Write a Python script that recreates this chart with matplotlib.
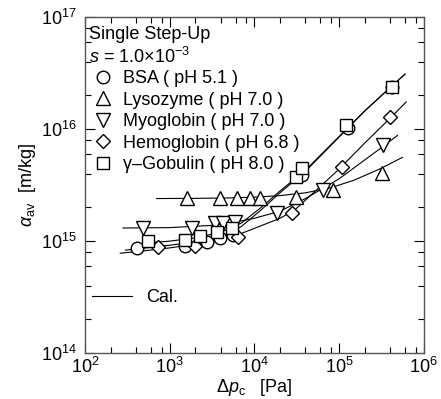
import matplotlib
matplotlib.use("Agg")
import matplotlib.pyplot as plt
from matplotlib.lines import Line2D
from matplotlib.ticker import LogLocator, NullFormatter

# measured points (dp_c [Pa], alpha_av [m/kg])
bsa_x = [410, 1.5e3, 2.75e3, 3.9e3, 5.6e3, 3.6e4, 1.26e5, 4.2e5]
bsa_y = [8.7e14, 9.0e14, 9.8e14, 1.06e15, 1.13e15, 3.9e15, 1.02e16, 2.37e16]

lyso_x = [1.59e3, 3.9e3, 6.2e3, 8.9e3, 1.16e4, 3.1e4, 8.5e4, 3.2e5]
lyso_y = [2.42e15, 2.42e15, 2.44e15, 2.44e15, 2.45e15, 2.5e15, 2.85e15, 4.1e15]

myo_x = [483, 1.82e3, 3.4e3, 4.3e3, 5.9e3, 1.86e4, 6.5e4, 3.3e5]
myo_y = [1.31e15, 1.31e15, 1.45e15, 1.45e15, 1.48e15, 1.78e15, 2.85e15, 7.2e15]

hemo_x = [727, 2.0e3, 6.4e3, 2.77e4, 1.07e5, 4.0e5]
hemo_y = [8.8e14, 9.0e14, 1.09e15, 1.78e15, 4.6e15, 1.28e16]

glob_x = [554, 1.5e3, 2.3e3, 3.6e3, 5.5e3, 3.1e4, 3.6e4, 1.2e5, 4.2e5]
glob_y = [1.0e15, 1.02e15, 1.1e15, 1.2e15, 1.3e15, 3.7e15, 4.5e15, 1.08e16, 2.4e16]

# calculated curves
cal_bsa_x = [2.6e2, 5e2, 1e3, 2e3, 4e3, 7e3, 1.2e4, 2e4, 4e4, 1e5, 2e5, 4e5, 6e5]
cal_bsa_y = [7.8e14, 8.2e14, 8.7e14, 9.4e14, 1.06e15, 1.35e15, 1.9e15, 2.7e15,
             4.2e15, 8.5e15, 1.45e16, 2.35e16, 3.1e16]

cal_glob_x = [5e2, 1e3, 2e3, 4e3, 7e3, 1.2e4, 2e4, 4e4, 1e5, 2e5, 4e5, 6e5]
cal_glob_y = [9.6e14, 1.0e15, 1.07e15, 1.2e15, 1.45e15, 2.0e15, 2.8e15, 4.3e15,
              8.6e15, 1.45e16, 2.35e16, 3.1e16]

cal_hemo_x = [3e2, 1e3, 3e3, 6e3, 1e4, 2e4, 3e4, 1e5, 2e5, 4e5, 6.2e5]
cal_hemo_y = [8.3e14, 9.2e14, 1.02e15, 1.12e15, 1.3e15, 1.6e15, 1.9e15, 4.4e15,
              7.5e15, 1.25e16, 1.75e16]

cal_myo_x = [2.8e2, 1e3, 3e3, 6e3, 1e4, 2e4, 4e4, 1e5, 2e5, 3.3e5, 4.9e5]
cal_myo_y = [1.31e15, 1.32e15, 1.38e15, 1.48e15, 1.6e15, 1.85e15, 2.4e15, 3.6e15,
             5.3e15, 7.0e15, 8.8e15]

cal_lyso_x = [7e2, 2e3, 5e3, 1e4, 2e4, 4e4, 8e4, 1.5e5, 3e5, 5.6e5]
cal_lyso_y = [2.4e15, 2.41e15, 2.43e15, 2.47e15, 2.55e15, 2.7e15, 3.0e15, 3.5e15,
              4.4e15, 5.6e15]

labels = ["BSA ( pH 5.1 )", "Lysozyme ( pH 7.0 )", "Myoglobin ( pH 7.0 )",
          "Hemoglobin ( pH 6.8 )", "\u03b3\u2013Gobulin ( pH 8.0 )"]

plt.rcParams['font.family'] = ['Liberation Sans', 'DejaVu Sans']
plt.rcParams['mathtext.fontset'] = 'custom'
plt.rcParams['mathtext.rm'] = 'Liberation Sans'
plt.rcParams['mathtext.it'] = 'Liberation Sans:italic'
plt.rcParams['mathtext.bf'] = 'Liberation Sans:bold'

fs = 13

fig = plt.figure(figsize=(4.41, 3.99), dpi=100)
ax = fig.add_axes([0.193, 0.115, 0.768, 0.842])

lw = 0.8
for cx, cy in [(cal_bsa_x, cal_bsa_y), (cal_glob_x, cal_glob_y), (cal_hemo_x, cal_hemo_y),
               (cal_myo_x, cal_myo_y), (cal_lyso_x, cal_lyso_y)]:
    ax.plot(cx, cy, color='black', lw=lw, zorder=1)

mk = dict(ls='none', mfc='white', mec='black', mew=1.0, zorder=3)
series = [(bsa_x, bsa_y, 'o', 9), (lyso_x, lyso_y, '^', 10), (myo_x, myo_y, 'v', 10),
          (hemo_x, hemo_y, 'D', 7), (glob_x, glob_y, 's', 8.5)]
handles = []
for (x, y, m, s), lab in zip(series, labels):
    ax.plot(x, y, marker=m, ms=s, **mk)
    handles.append(Line2D([], [], marker=m, ms=s, **mk, label=lab))

ax.set_xscale('log')
ax.set_yscale('log')
ax.set_xlim(1e2, 1e6)
ax.set_ylim(1e14, 1e17)

for axis in [ax.xaxis, ax.yaxis]:
    axis.set_major_locator(LogLocator(base=10, numticks=10))
    axis.set_minor_locator(LogLocator(base=10, subs=[2, 4, 6, 8], numticks=20))
    axis.set_minor_formatter(NullFormatter())
ax.tick_params(which='both', direction='in', top=True, right=True, labelsize=fs)
ax.tick_params(which='major', length=7, width=0.8)
ax.tick_params(which='minor', length=4, width=0.8)
ax.tick_params(axis='x', pad=3)
ax.tick_params(axis='y', pad=6)
for sp in ax.spines.values():
    sp.set_linewidth(1.0)
    sp.set_color('#555555')

ax.set_xlabel(r"$\Delta p_{\rm c}$   [Pa]", fontsize=fs, labelpad=0)
ax.set_ylabel(r"$\alpha_{\rm av}$  [m/kg]", fontsize=fs, labelpad=2)

ax.text(0.012, 0.975, "Single Step-Up", transform=ax.transAxes, fontsize=fs, va='top')
ax.text(0.012, 0.912, r"$s$ = 1.0$\times$10$^{-3}$", transform=ax.transAxes, fontsize=fs, va='top')

leg = ax.legend(handles=handles, loc='upper left', bbox_to_anchor=(0.015, 0.853),
                frameon=False, fontsize=fs, handlelength=1.0, handletextpad=0.6,
                labelspacing=0.25, borderpad=0.2, borderaxespad=0)
ax.add_artist(leg)

cal = Line2D([], [], color='black', lw=lw, label="Cal.")
ax.legend(handles=[cal], loc='upper left', bbox_to_anchor=(0.0, 0.212), frameon=False,
          fontsize=fs, handlelength=2.2, handletextpad=0.8, borderaxespad=0)

fig.savefig("out.png", dpi=100)
